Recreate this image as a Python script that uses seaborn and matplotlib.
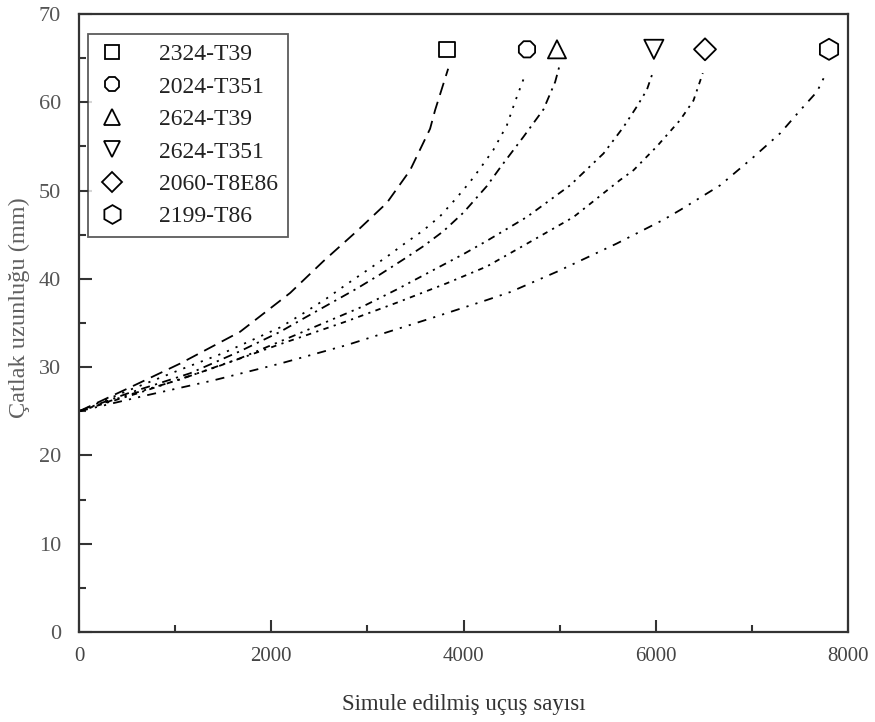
import matplotlib
matplotlib.use("Agg")
import matplotlib.pyplot as plt
from matplotlib.lines import Line2D
from matplotlib.ticker import MultipleLocator
import seaborn as sns
import pandas as pd

# ---- data ----
labels = ["2324-T39", "2024-T351", "2624-T39", "2624-T351", "2060-T8E86", "2199-T86"]

x_2324_T39 = [0, 530, 1051, 1675, 2196, 2542, 2890, 3202, 3444, 3652, 3704, 3840]
y_2324_T39 = [25, 27.7, 30.4, 34.0, 38.4, 42.0, 45.4, 48.6, 52.3, 57.0, 59.1, 63.8]

x_2024_T351 = [0, 500, 1051, 1502, 2092, 2334, 2578, 2786, 3028, 3202, 3375, 3583, 3757, 3930, 4069, 4172, 4310, 4451, 4537, 4630]
y_2024_T351 = [25, 27.3, 29.7, 31.6, 34.5, 36.1, 37.8, 39.4, 41.2, 42.5, 43.9, 45.5, 47.1, 49.2, 51.0, 52.5, 54.6, 57.4, 60.1, 62.8]

x_2624_T39 = [0, 500, 1155, 1675, 2092, 2334, 2612, 2890, 3132, 3375, 3583, 3791, 3999, 4242, 4381, 4624, 4832, 4953, 4995]
y_2624_T39 = [25, 27.0, 29.3, 31.8, 34.0, 35.5, 37.2, 38.9, 40.5, 42.2, 43.7, 45.4, 47.5, 50.5, 52.6, 56.1, 59.2, 62.3, 64.0]

x_2624_T351 = [0, 500, 1051, 1675, 2265, 2612, 2958, 3306, 3652, 3999, 4242, 4658, 5109, 5456, 5664, 5802, 5907, 5976]
y_2624_T351 = [25, 26.8, 28.6, 31.0, 33.7, 35.3, 36.9, 38.8, 40.8, 42.8, 44.3, 47.0, 50.6, 54.2, 57.2, 59.5, 61.4, 63.6]

x_2060_T8E86 = [0, 600, 1398, 2092, 2334, 2786, 3306, 3826, 4242, 4727, 5144, 5629, 5768, 6011, 6254, 6392, 6489]
y_2060_T8E86 = [25, 27.0, 29.9, 32.6, 33.5, 35.2, 37.3, 39.5, 41.4, 44.4, 47.0, 51.2, 52.3, 55.0, 58.0, 60.2, 63.3]

x_2199_T86 = [0, 700, 1398, 2092, 2786, 3132, 3652, 4242, 4485, 4970, 5594, 6081, 6254, 6670, 7017, 7295, 7503, 7677, 7763]
y_2199_T86 = [25, 26.8, 28.5, 30.4, 32.5, 33.7, 35.5, 37.6, 38.5, 40.8, 44.0, 46.7, 47.8, 50.6, 53.8, 56.5, 59.1, 61.2, 63.1]

marker_x = [3830, 4660, 4972, 5980, 6512, 7802]
marker_y = [66, 66, 66, 66, 66, 66]

xs = [x_2324_T39, x_2024_T351, x_2624_T39, x_2624_T351, x_2060_T8E86, x_2199_T86]
ys = [y_2324_T39, y_2024_T351, y_2624_T39, y_2624_T351, y_2060_T8E86, y_2199_T86]

# ---- styles ----
dash_styles = [(7, 4), (1.2, 4), (5, 3, 1.2, 3), (4, 3, 1.2, 3, 1.2, 3), (3, 3, 1.2, 3), (5, 4, 1.2, 4, 1.2, 4)]
marker_shapes = ["s", "8", "^", "v", "D", "h"]
scatter_sizes = [125, 160, 170, 190, 125, 230]
legend_msizes = [10.5, 11.5, 12, 12, 10, 13.5]

frames = []
for lab, xv, yv in zip(labels, xs, ys):
    frames.append(pd.DataFrame({"x": xv, "y": yv, "alloy": lab}))
df = pd.concat(frames, ignore_index=True)
mdf = pd.DataFrame({"x": marker_x, "y": marker_y, "alloy": labels})

sns.set_theme(style="white")
plt.rcParams["font.family"] = ["Liberation Serif", "DejaVu Serif"]

fig = plt.figure(figsize=(8.75, 7.22), dpi=100)
ax = fig.add_axes([0.0903, 0.1247, 0.8789, 0.8559])

sns.lineplot(data=df, x="x", y="y", hue="alloy", style="alloy",
             palette=["black"] * 6, dashes=dict(zip(labels, dash_styles)),
             sort=False, estimator=None, linewidth=1.3, legend=False, ax=ax)

sns.scatterplot(data=mdf, x="x", y="y", style="alloy", size="alloy",
                markers=dict(zip(labels, marker_shapes)),
                sizes=dict(zip(labels, scatter_sizes)),
                facecolor="none", edgecolor="black", linewidth=1.3,
                legend=False, ax=ax, zorder=5)

ax.set_xlim(0, 8000)
ax.set_ylim(0, 70)
ax.xaxis.set_major_locator(MultipleLocator(2000))
ax.xaxis.set_minor_locator(MultipleLocator(1000))
ax.yaxis.set_major_locator(MultipleLocator(10))
ax.yaxis.set_minor_locator(MultipleLocator(5))
ax.tick_params(axis="both", which="major", direction="in", length=9, width=1.5,
               colors="#333333", top=False, right=False, bottom=True, left=True)
ax.tick_params(axis="both", which="minor", direction="in", length=5, width=1.5,
               colors="#333333", top=False, right=False, bottom=True, left=True)
ax.tick_params(axis="x", labelsize=15, pad=11, labelcolor="#444444")
ax.tick_params(axis="y", labelsize=16, pad=13, labelcolor="#555555")

for sp in ax.spines.values():
    sp.set_visible(True)
    sp.set_color("#333333")
    sp.set_linewidth(1.6)

ax.set_xlabel("Simule edilmiş uçuş sayısı", fontsize=16.5, color="#333333", labelpad=20)
ax.set_ylabel("Çatlak uzunluğu (mm)", fontsize=17.5, color="#606060")
ax.yaxis.set_label_coords(-0.064, 0.525)

handles = [Line2D([], [], linestyle="none", marker=m, markersize=ms,
                  markerfacecolor="none", markeredgecolor="black", markeredgewidth=1.3)
           for m, ms in zip(marker_shapes, legend_msizes)]
leg = ax.legend(handles, labels, loc="upper left", bbox_to_anchor=(0.012, 0.967),
                borderaxespad=0, fontsize=17, frameon=True, fancybox=False,
                labelspacing=0.46, handlelength=1.2, handletextpad=1.4,
                borderpad=0.4, edgecolor="#333333")
leg.get_frame().set_linewidth(1.3)
for t in leg.get_texts():
    t.set_color("#222222")

fig.savefig("out.png", dpi=100)
